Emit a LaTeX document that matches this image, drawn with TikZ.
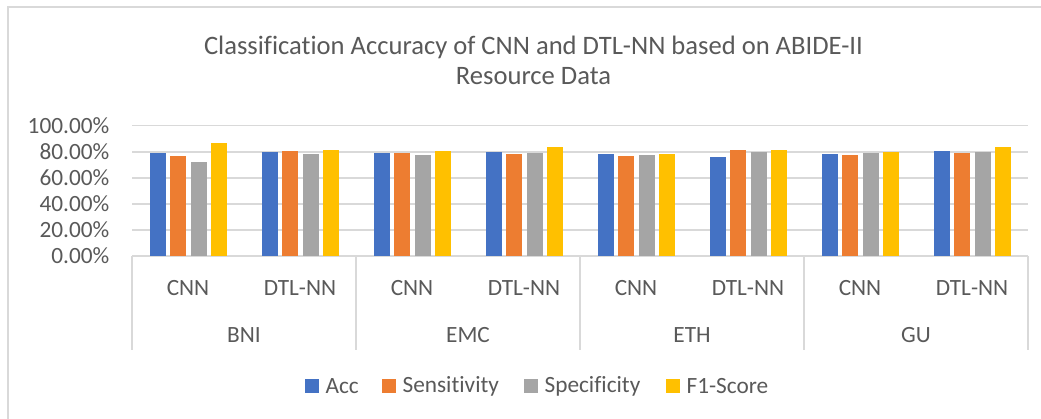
\documentclass[tikz,border=0pt]{standalone}
\usepackage{fontspec}
\setmainfont{Carlito}[Ligatures=NoCommon]
\usepackage{tikz}
\usetikzlibrary{positioning}
\usepackage{xcolor}
\definecolor{accblue}{HTML}{4472C4}
\definecolor{sensorange}{HTML}{ED7D31}
\definecolor{specgray}{HTML}{A5A5A5}
\definecolor{fonegold}{HTML}{FFC000}
\definecolor{gridgray}{HTML}{D9D9D9}
\definecolor{labelgray}{HTML}{595959}
\newcommand{\chartfont}{\fontsize{23.3}{26}\selectfont}
\newcommand{\charttitlefont}{\fontsize{26.6}{30}\selectfont}

\begin{document}
\begin{tikzpicture}[x=1pt,y=1pt,
  gridline/.style={draw=gridgray,line width=1.5pt},
  ticklabel/.style={anchor=east,inner sep=0pt,text=labelgray,font=\chartfont},
  catlabel/.style={inner sep=0pt,text=labelgray,font=\chartfont},
  legkey/.style={minimum size=14pt,inner sep=0pt,anchor=west}]
\useasboundingbox (0,0) rectangle (1041,419);
% chart frame
\draw[gridgray,line width=1.2pt] (8,0) -- (8,412) -- (1041,412);
\node[align=center,text=labelgray,font=\charttitlefont] (title) at (533.5,359)
  {Classification Accuracy of CNN and DTL-NN based on ABIDE-II\\Resource Data};
% value axis
\foreach \k/\txt in {0/0.00\%,1/20.00\%,2/40.00\%,3/60.00\%,4/80.00\%,5/100.00\%}{
  \draw[gridline] (132,{163+26.06*\k}) -- (1028,{163+26.06*\k});
  \node[ticklabel] (tick\k) at (109.5,{163+26.06*\k}) {\txt};
}
% bars
\foreach \a/\b/\c/\d [count=\i from 0] in
  {79.0/77.0/71.9/86.7, 79.5/80.6/78.0/81.3,
   78.8/78.8/77.7/80.6, 79.5/78.5/79.3/83.4,
   78.3/76.7/77.7/78.5, 75.7/81.1/79.5/81.3,
   78.3/77.7/79.3/79.5, 80.3/79.3/79.5/83.4}{
  \fill[accblue]    ({150+112*\i},163) rectangle ++(16,{1.303*\a});
  \fill[sensorange] ({170.3+112*\i},163) rectangle ++(16,{1.303*\b});
  \fill[specgray]   ({190.6+112*\i},163) rectangle ++(16,{1.303*\c});
  \fill[fonegold]   ({210.9+112*\i},163) rectangle ++(16,{1.303*\d});
}
% category axis
\foreach \k in {0,...,4}{
  \draw[gridline] ({132+224*\k},163) -- ({132+224*\k},69);
}
\foreach \site [count=\g from 0] in {BNI,EMC,ETH,GU}{
  \node[catlabel] (cnn\g) at ({188+224*\g},131) {CNN};
  \node[catlabel] (dtl\g) at ({300+224*\g},131) {DTL-NN};
  \node[catlabel] (site\g) at ({244+224*\g},84) {\site};
}
% legend
\node[legkey,fill=accblue] (keyacc) at (305,33) {};
\node[catlabel,right=6pt of keyacc] (legacc) {Acc};
\node[legkey,fill=sensorange] (keysens) at (382,33) {};
\node[catlabel,right=6pt of keysens] (legsens) {Sensitivity};
\node[legkey,fill=specgray] (keyspec) at (524,33) {};
\node[catlabel,right=6pt of keyspec] (legspec) {Specificity};
\node[legkey,fill=fonegold] (keyfone) at (666,33) {};
\node[catlabel,right=6pt of keyfone] (legfone) {F1-Score};
\end{tikzpicture}
\end{document}
